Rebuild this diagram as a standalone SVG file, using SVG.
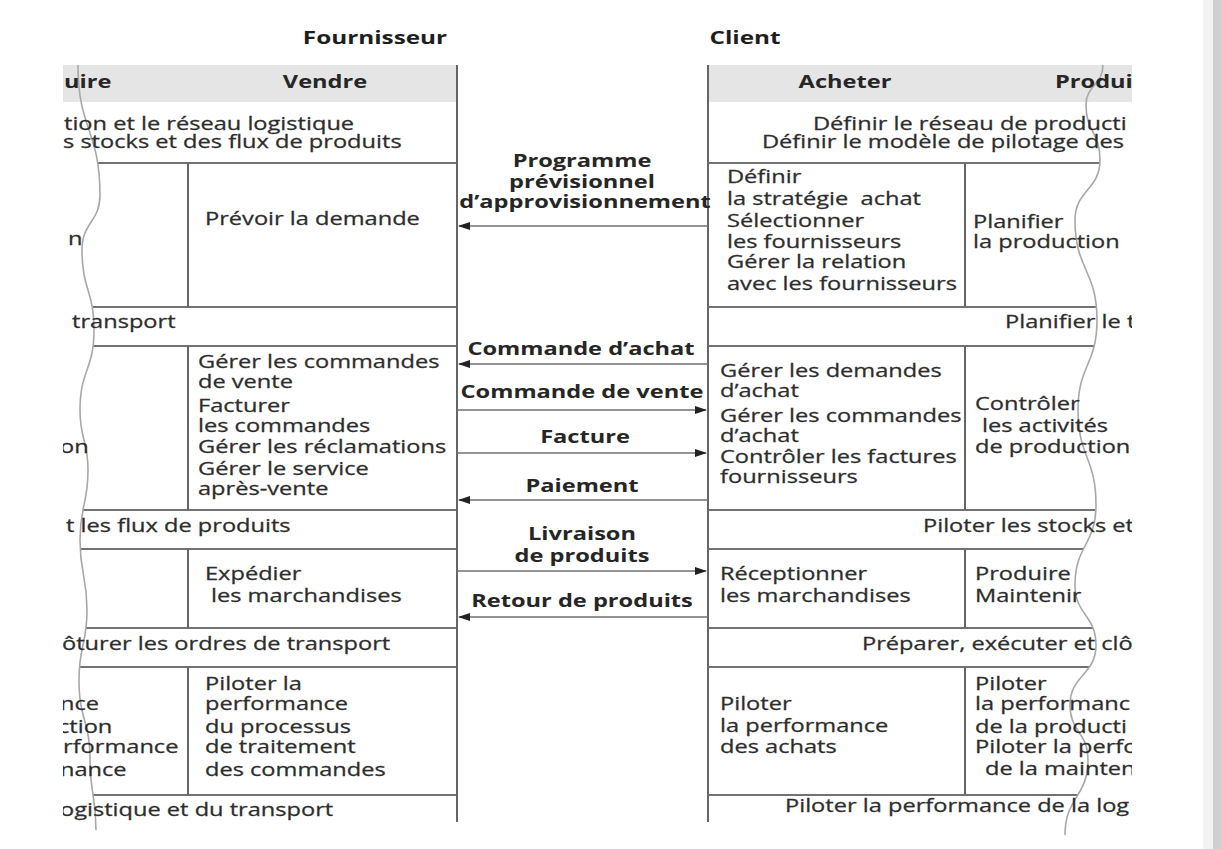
<svg xmlns="http://www.w3.org/2000/svg" width="1221" height="849" viewBox="0 0 1221 849">
  <style>
    .t { font-family: "Open Sans", "DejaVu Sans", sans-serif; font-size: 17.5px; fill: #2d2d2d; stroke: #2d2d2d; stroke-width: 0.25; }
    .b { font-family: "Open Sans", "DejaVu Sans", sans-serif; font-size: 17.5px; font-weight: bold; fill: #262626; }
    .ttl { font-family: "Open Sans", "DejaVu Sans", sans-serif; font-size: 18px; font-weight: bold; fill: #1e1e1e; }
    .m { text-anchor: middle; }
    .hdr { fill: #e5e5e5; }
    .frame { stroke: #666; stroke-width: 2; fill: none; }
    .row { stroke: #727272; stroke-width: 2; fill: none; }
    .wave { stroke: #a8a8a8; stroke-width: 1.6; fill: none; }
    .flow { stroke: #707070; stroke-width: 1.6; fill: none; marker-end: url(#head); }
  </style>
  <defs>
    <marker id="head" markerWidth="12" markerHeight="8" refX="11" refY="4" orient="auto" markerUnits="userSpaceOnUse">
      <path d="M0,0 L12,4 L0,8 Z" fill="#222"/>
    </marker>
    <clipPath id="clipL"><rect x="63" y="0" width="400" height="849"/></clipPath>
    <clipPath id="clipR"><rect x="700" y="0" width="432" height="849"/></clipPath>
    <clipPath id="bodyL">
      <path d="M78,60 L78,65 C78,130 100,130 100,195 C100,222 82,222 82,250 C82,290 94,290 94,330 C94,370 80,370 80,410 C80,440 88,440 88,470 C88,505 80,505 80,540 C80,575 87,575 87,610 C87,645 79,645 79,680 C79,720 90,720 90,760 C90,795 96,795 96,830 L470,830 L470,60 Z"/>
    </clipPath>
    <clipPath id="bodyR">
      <path d="M700,60 L1103,60 L1103,65 C1103,85 1086,85 1086,105 C1086,132 1100,132 1100,160 C1100,190 1075,190 1075,220 C1075,270 1097,270 1097,320 C1097,365 1078,365 1078,410 C1078,457 1096,457 1096,505 C1096,545 1075,545 1075,585 C1075,615 1096,615 1096,645 C1096,675 1070,675 1070,705 C1070,732 1088,732 1088,760 C1088,797 1065,797 1065,835 L700,835 Z"/>
    </clipPath>
  </defs>

  <rect width="1221" height="849" fill="#ffffff"/>
  <!-- page edge shading -->
  <rect x="1203" y="0" width="10" height="849" fill="#f2f2f2"/>
  <rect x="1213" y="0" width="8" height="849" fill="#cfcfcf"/>

  <!-- column titles -->
  <g id="title-fournisseur"><text class="ttl m" transform="matrix(1.35 0 0 1 375 44)">Fournisseur</text></g>
  <g id="title-client"><text class="ttl m" transform="matrix(1.35 0 0 1 745 44)">Client</text></g>

  <!-- ===== Fournisseur side ===== -->
  <g id="fournisseur-frame">
    <g clip-path="url(#clipL)">
      <rect class="hdr" x="63" y="65" width="394" height="37"/>
    </g>
    <g clip-path="url(#bodyL)">
      <path class="row" d="M60,163 H457 M60,307 H457 M60,346 H457 M60,510 H457 M60,549 H457 M60,628 H457 M60,667 H457 M60,795 H457"/>
    </g>
    <path class="frame" d="M457,65 V822"/>
    <path class="frame" d="M188,163 V307 M188,346 V510 M188,549 V628 M188,667 V795"/>
    <path class="wave" d="M78,65 C78,130 100,130 100,195 C100,222 82,222 82,250 C82,290 94,290 94,330 C94,370 80,370 80,410 C80,440 88,440 88,470 C88,505 80,505 80,540 C80,575 87,575 87,610 C87,645 79,645 79,680 C79,720 90,720 90,760 C90,795 96,795 96,830"/>
  </g>

  <g clip-path="url(#clipL)">
    <g id="f-header">
      <text class="b" transform="matrix(1.35 0 0 1 64 88)">uire</text>
      <text class="b m" transform="matrix(1.35 0 0 1 325 88)">Vendre</text>
    </g>
    <g id="f-reseau">
      <text class="t" transform="matrix(1.35 0 0 1 64 130)">tion et le réseau logistique</text>
      <text class="t" transform="matrix(1.35 0 0 1 63 148)">s stocks et des flux de produits</text>
    </g>
    <g id="f-planifier">
      <text class="t" transform="matrix(1.35 0 0 1 68 245)">n</text>
    </g>
    <g id="f-prevoir">
      <text class="t" transform="matrix(1.35 0 0 1 205 225)">Prévoir la demande</text>
    </g>
    <g id="f-transport">
      <text class="t" transform="matrix(1.35 0 0 1 72 328)">transport</text>
    </g>
    <g id="f-execution">
      <text class="t" transform="matrix(1.35 0 0 1 60 453)">on</text>
    </g>
    <g id="f-commandes">
      <text class="t" transform="matrix(1.35 0 0 1 198 368)">Gérer les commandes</text>
      <text class="t" transform="matrix(1.35 0 0 1 198 388)">de vente</text>
      <text class="t" transform="matrix(1.35 0 0 1 198 412)">Facturer</text>
      <text class="t" transform="matrix(1.35 0 0 1 198 432)">les commandes</text>
      <text class="t" transform="matrix(1.35 0 0 1 198 453)">Gérer les réclamations</text>
      <text class="t" transform="matrix(1.35 0 0 1 198 475)">Gérer le service</text>
      <text class="t" transform="matrix(1.35 0 0 1 198 495)">après-vente</text>
    </g>
    <g id="f-flux">
      <text class="t" transform="matrix(1.35 0 0 1 66 532)">t les flux de produits</text>
    </g>
    <g id="f-expedier">
      <text class="t" transform="matrix(1.35 0 0 1 205 580)">Expédier</text>
      <text class="t" transform="matrix(1.35 0 0 1 211 602)">les marchandises</text>
    </g>
    <g id="f-ordres">
      <text class="t" transform="matrix(1.35 0 0 1 62 650)">ôturer les ordres de transport</text>
    </g>
    <g id="f-perf-prod">
      <text class="t" transform="matrix(1.35 0 0 1 60 710)">nce</text>
      <text class="t" transform="matrix(1.35 0 0 1 58 733)">ction</text>
      <text class="t" transform="matrix(1.35 0 0 1 63 753)">rformance</text>
      <text class="t" transform="matrix(1.35 0 0 1 60 776)">nance</text>
    </g>
    <g id="f-perf-cmd">
      <text class="t" transform="matrix(1.35 0 0 1 205 690)">Piloter la</text>
      <text class="t" transform="matrix(1.35 0 0 1 205 710)">performance</text>
      <text class="t" transform="matrix(1.35 0 0 1 205 733)">du processus</text>
      <text class="t" transform="matrix(1.35 0 0 1 205 753)">de traitement</text>
      <text class="t" transform="matrix(1.35 0 0 1 205 776)">des commandes</text>
    </g>
    <g id="f-perf-log">
      <text class="t" transform="matrix(1.35 0 0 1 60 816)">ogistique et du transport</text>
    </g>
  </g>

  <!-- ===== Client side ===== -->
  <g id="client-frame">
    <g clip-path="url(#clipR)">
      <rect class="hdr" x="708" y="65" width="424" height="37"/>
    </g>
    <g clip-path="url(#bodyR)">
      <path class="row" d="M708,163 H1110 M708,307 H1110 M708,346 H1110 M708,510 H1110 M708,549 H1110 M708,628 H1110 M708,667 H1110 M708,795 H1110"/>
      <path class="frame" d="M965,163 V307 M965,346 V510 M965,549 V628 M965,667 V795"/>
    </g>
    <path class="frame" d="M708,65 V822"/>
    <path class="wave" d="M1103,65 C1103,85 1086,85 1086,105 C1086,132 1100,132 1100,160 C1100,190 1075,190 1075,220 C1075,270 1097,270 1097,320 C1097,365 1078,365 1078,410 C1078,457 1096,457 1096,505 C1096,545 1075,545 1075,585 C1075,615 1096,615 1096,645 C1096,675 1070,675 1070,705 C1070,732 1088,732 1088,760 C1088,797 1065,797 1065,835"/>
  </g>

  <g clip-path="url(#clipR)">
    <g id="c-header">
      <text class="b m" transform="matrix(1.35 0 0 1 845 88)">Acheter</text>
      <text class="b" transform="matrix(1.35 0 0 1 1055 88)">Produi</text>
    </g>
    <g id="c-reseau">
      <text class="t" transform="matrix(1.35 0 0 1 813 130)">Définir le réseau de producti</text>
      <text class="t" transform="matrix(1.35 0 0 1 762 148)">Définir le modèle de pilotage des</text>
    </g>
    <g id="c-strategie">
      <text class="t" transform="matrix(1.35 0 0 1 727 183)">Définir</text>
      <text class="t" transform="matrix(1.35 0 0 1 727 205)">la stratégie&#160; achat</text>
      <text class="t" transform="matrix(1.35 0 0 1 727 227)">Sélectionner</text>
      <text class="t" transform="matrix(1.35 0 0 1 727 248)">les fournisseurs</text>
      <text class="t" transform="matrix(1.35 0 0 1 727 268)">Gérer la relation</text>
      <text class="t" transform="matrix(1.35 0 0 1 727 290)">avec les fournisseurs</text>
    </g>
    <g id="c-planifier">
      <text class="t" transform="matrix(1.35 0 0 1 973 228)">Planifier</text>
      <text class="t" transform="matrix(1.35 0 0 1 973 248)">la production</text>
    </g>
    <g id="c-transport">
      <text class="t" transform="matrix(1.35 0 0 1 1005 328)">Planifier le t</text>
    </g>
    <g id="c-achats">
      <text class="t" transform="matrix(1.35 0 0 1 720 377)">Gérer les demandes</text>
      <text class="t" transform="matrix(1.35 0 0 1 720 397)">d’achat</text>
      <text class="t" transform="matrix(1.35 0 0 1 720 422)">Gérer les commandes</text>
      <text class="t" transform="matrix(1.35 0 0 1 720 442)">d’achat</text>
      <text class="t" transform="matrix(1.35 0 0 1 720 463)">Contrôler les factures</text>
      <text class="t" transform="matrix(1.35 0 0 1 720 483)">fournisseurs</text>
    </g>
    <g id="c-controler">
      <text class="t" transform="matrix(1.35 0 0 1 975 410)">Contrôler</text>
      <text class="t" transform="matrix(1.35 0 0 1 982 432)">les activités</text>
      <text class="t" transform="matrix(1.35 0 0 1 975 453)">de production</text>
    </g>
    <g id="c-stocks">
      <text class="t" transform="matrix(1.35 0 0 1 923 532)">Piloter les stocks et</text>
    </g>
    <g id="c-receptionner">
      <text class="t" transform="matrix(1.35 0 0 1 720 580)">Réceptionner</text>
      <text class="t" transform="matrix(1.35 0 0 1 720 602)">les marchandises</text>
    </g>
    <g id="c-produire">
      <text class="t" transform="matrix(1.35 0 0 1 975 580)">Produire</text>
      <text class="t" transform="matrix(1.35 0 0 1 975 602)">Maintenir</text>
    </g>
    <g id="c-ordres">
      <text class="t" transform="matrix(1.35 0 0 1 862 650)">Préparer, exécuter et clô</text>
    </g>
    <g id="c-perf-achats">
      <text class="t" transform="matrix(1.35 0 0 1 720 710)">Piloter</text>
      <text class="t" transform="matrix(1.35 0 0 1 720 732)">la performance</text>
      <text class="t" transform="matrix(1.35 0 0 1 720 753)">des achats</text>
    </g>
    <g id="c-perf-prod">
      <text class="t" transform="matrix(1.35 0 0 1 975 690)">Piloter</text>
      <text class="t" transform="matrix(1.35 0 0 1 975 710)">la performanc</text>
      <text class="t" transform="matrix(1.35 0 0 1 975 733)">de la producti</text>
      <text class="t" transform="matrix(1.35 0 0 1 975 753)">Piloter la perfc</text>
      <text class="t" transform="matrix(1.35 0 0 1 985 775)">de la mainten</text>
    </g>
    <g id="c-perf-log">
      <text class="t" transform="matrix(1.35 0 0 1 785 812)">Piloter la performance de la log</text>
    </g>
  </g>

  <!-- ===== flows between supplier and customer ===== -->
  <g id="flows">
    <path class="flow" d="M708,226 H459"/>
    <path class="flow" d="M708,364 H459"/>
    <path class="flow" d="M457,410 H706"/>
    <path class="flow" d="M457,453 H706"/>
    <path class="flow" d="M708,500 H459"/>
    <path class="flow" d="M457,571 H706"/>
    <path class="flow" d="M708,617 H459"/>
    <g id="flow-labels">
      <text class="b m" transform="matrix(1.35 0 0 1 582 167)">Programme</text>
      <text class="b m" transform="matrix(1.35 0 0 1 582 188)">prévisionnel</text>
      <text class="b m" transform="matrix(1.35 0 0 1 585 208)">d’approvisionnement</text>
      <text class="b m" transform="matrix(1.35 0 0 1 581 355)">Commande d’achat</text>
      <text class="b m" transform="matrix(1.35 0 0 1 582 398)">Commande de vente</text>
      <text class="b m" transform="matrix(1.35 0 0 1 585 443)">Facture</text>
      <text class="b m" transform="matrix(1.35 0 0 1 582 492)">Paiement</text>
      <text class="b m" transform="matrix(1.35 0 0 1 582 540)">Livraison</text>
      <text class="b m" transform="matrix(1.35 0 0 1 582 562)">de produits</text>
      <text class="b m" transform="matrix(1.35 0 0 1 582 607)">Retour de produits</text>
    </g>
  </g>
</svg>
